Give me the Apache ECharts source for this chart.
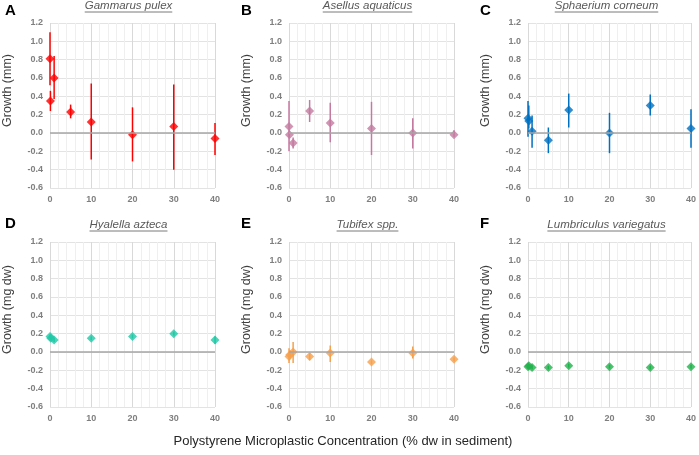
<!DOCTYPE html>
<html>
<head>
<meta charset="utf-8">
<script src="https://cdn.jsdelivr.net/npm/echarts@6/dist/echarts.min.js"></script>
<style>
  html, body { margin: 0; padding: 0; background: #fff; }
  #main { width: 699px; height: 455px; }
</style>
</head>
<body>
<div id="main"></div>
<script>
// Growth vs polystyrene microplastic concentration (% dw in sediment)
// each species: concentration, mean growth, lower and upper error bar end
var concA = [0, 0.1, 1, 5, 10, 20, 30, 40];
var meanA = [0.81, 0.35, 0.60, 0.23, 0.12, -0.02, 0.07, -0.06];
var lowA  = [0.52, 0.24, 0.37, 0.16, -0.29, -0.31, -0.40, -0.24];
var highA = [1.10, 0.46, 0.84, 0.31, 0.54, 0.28, 0.53, 0.11];

var concB = [0, 0.1, 1, 5, 10, 20, 30, 40];
var meanB = [0.07, -0.02, -0.11, 0.24, 0.11, 0.05, 0.00, -0.02];
var lowB  = [-0.20, -0.05, -0.17, 0.12, -0.10, -0.24, -0.17, -0.04];
var highB = [0.35, 0.02, -0.05, 0.36, 0.33, 0.34, 0.16, 0.03];

var concC = [0, 0.2, 1, 5, 10, 20, 30, 40];
var meanC = [0.16, 0.13, 0.02, -0.08, 0.25, 0.00, 0.30, 0.05];
var lowC  = [-0.04, 0.05, -0.16, -0.22, 0.06, -0.22, 0.19, -0.16];
var highC = [0.35, 0.30, 0.19, 0.06, 0.43, 0.22, 0.42, 0.26];

var concD = [0, 0.2, 1, 10, 20, 30, 40];
var meanD = [0.17, 0.15, 0.13, 0.15, 0.17, 0.20, 0.13];
var lowD  = [0.15, 0.13, 0.11, 0.13, 0.15, 0.18, 0.09];
var highD = [0.19, 0.17, 0.15, 0.17, 0.19, 0.22, 0.17];

var concE = [0, 0.2, 1, 5, 10, 20, 30, 40];
var meanE = [-0.05, -0.03, 0.00, -0.05, -0.01, -0.11, -0.01, -0.08];
var lowE  = [-0.12, -0.08, -0.12, -0.09, -0.11, -0.13, -0.07, -0.10];
var highE = [0.04, 0.02, 0.11, -0.01, 0.07, -0.09, 0.06, -0.06];

var concF = [0, 0.2, 1, 5, 10, 20, 30, 40];
var meanF = [-0.16, -0.15, -0.17, -0.17, -0.15, -0.16, -0.17, -0.16];
var lowF  = [-0.18, -0.17, -0.19, -0.19, -0.17, -0.18, -0.19, -0.18];
var highF = [-0.14, -0.13, -0.15, -0.15, -0.13, -0.14, -0.15, -0.14];

var letters = ["A", "B", "C", "D", "E", "F"];
var species = ["Gammarus pulex", "Asellus aquaticus", "Sphaerium corneum",
               "Hyalella azteca", "Tubifex spp.", "Lumbriculus variegatus"];
var yNames = ["Growth (mm)", "Growth (mm)", "Growth (mm)",
              "Growth (mg dw)", "Growth (mg dw)", "Growth (mg dw)"];
var colors = ["#ff0000", "#c47aa0", "#0070c0", "#1fc8a6", "#f7a04c", "#22b24c"];
var xMin = 0, xMax = 40, xStep = 10;
var yMin = -0.6, yMax = 1.2, yStep = 0.2;
var xLabel = "Polystyrene Microplastic Concentration (% dw in sediment)";

var panels = [
  [concA, meanA, lowA, highA], [concB, meanB, lowB, highB], [concC, meanC, lowC, highC],
  [concD, meanD, lowD, highD], [concE, meanE, lowE, highE], [concF, meanF, lowF, highF]
];

var lefts = [50, 289, 528];
var tops = [23, 242];
var size = 165;

var ctx = document.createElement("canvas").getContext("2d");
function textWidth(t, font) { ctx.font = font; return ctx.measureText(t).width; }

var grids = [], xAxes = [], yAxes = [], series = [], graphics = [];

panels.forEach(function (p, i) {
  var col = i % 3, row = Math.floor(i / 3);
  var left = lefts[col], top = tops[row];
  grids.push({ left: left, top: top, width: size, height: size });
  xAxes.push({
    gridIndex: i, type: "value", min: xMin, max: xMax, interval: xStep,
    axisLine: { show: false }, axisTick: { show: false },
    axisLabel: { color: "#7f7f7f", fontWeight: "bold", fontSize: 9, margin: 7, fontFamily: "Liberation Sans" },
    splitLine: { show: true, lineStyle: { color: "#d9d9d9", width: 1 } },
    minorTick: { show: false, splitNumber: 5 },
    minorSplitLine: { show: true, lineStyle: { color: "#efefef", width: 1 } }
  });
  yAxes.push({
    gridIndex: i, type: "value", min: yMin, max: yMax, interval: yStep,
    axisLine: { show: false }, axisTick: { show: false },
    axisLabel: {
      color: "#7f7f7f", fontWeight: "bold", fontSize: 9, margin: 7, fontFamily: "Liberation Sans",
      formatter: function (v) { return Math.abs(v) < 1e-9 ? "0.0" : v.toFixed(1); }
    },
    splitLine: { show: true, lineStyle: { color: "#e3e3e3", width: 1 } }
  });

  var color = colors[i];
  var bars = p[0].map(function (x, k) { return [x, p[2][k], p[3][k]]; });
  var pts = p[0].map(function (x, k) { return [x, p[1][k]]; });

  // zero line
  series.push({
    type: "line", xAxisIndex: i, yAxisIndex: i, data: [], z: 1,
    markLine: {
      silent: true, symbol: "none", label: { show: false },
      lineStyle: { color: "#a6a6a6", width: 1.5, type: "solid" },
      data: [{ yAxis: 0 }]
    }
  });
  // error bars
  series.push({
    type: "custom", xAxisIndex: i, yAxisIndex: i, z: 2,
    encode: { x: 0, y: [1, 2] },
    data: bars,
    renderItem: function (params, api) {
      var a = api.coord([api.value(0), api.value(1)]);
      var b = api.coord([api.value(0), api.value(2)]);
      return {
        type: "line",
        shape: { x1: a[0], y1: a[1], x2: b[0], y2: b[1] },
        style: { stroke: color, lineWidth: 1.5 }
      };
    }
  });
  // means
  series.push({
    type: "scatter", xAxisIndex: i, yAxisIndex: i, z: 3,
    symbol: "diamond", symbolSize: 9,
    itemStyle: { color: color },
    data: pts
  });

  // panel letter
  graphics.push({
    type: "text", left: left - (col === 0 ? 45 : 48), top: top - (row === 0 ? 20 : 26),
    style: { text: letters[i], font: "bold 15px Liberation Sans", fill: "#000" }
  });
  // species title, underlined
  var tf = "italic 11.5px Liberation Sans";
  var tw = textWidth(species[i], tf);
  var cx = left + size / 2 - 4;
  var ty = row === 0 ? 6 : 225;
  graphics.push({
    type: "text", x: cx, y: ty,
    style: { text: species[i], font: tf, fill: "#595959", align: "center", verticalAlign: "middle" }
  });
  graphics.push({
    type: "line", shape: { x1: cx - tw / 2, y1: ty + 6, x2: cx + tw / 2, y2: ty + 6 },
    style: { stroke: "#595959", lineWidth: 0.8 }
  });
  // y axis name
  graphics.push({
    type: "text", x: left - 42, y: top + size / 2 - 15, rotation: Math.PI / 2,
    style: { text: yNames[i], font: "12.5px Liberation Sans", fill: "#404040", align: "center", verticalAlign: "middle" }
  });
});

graphics.push({
  type: "text", x: 343, y: 441,
  style: { text: xLabel, font: "13px Liberation Sans", fill: "#262626", align: "center", verticalAlign: "middle" }
});

var myChart = echarts.init(document.getElementById("main"));
myChart.setOption({
  animation: false,
  grid: grids,
  xAxis: xAxes,
  yAxis: yAxes,
  series: series,
  graphic: graphics
});
</script>
</body>
</html>
